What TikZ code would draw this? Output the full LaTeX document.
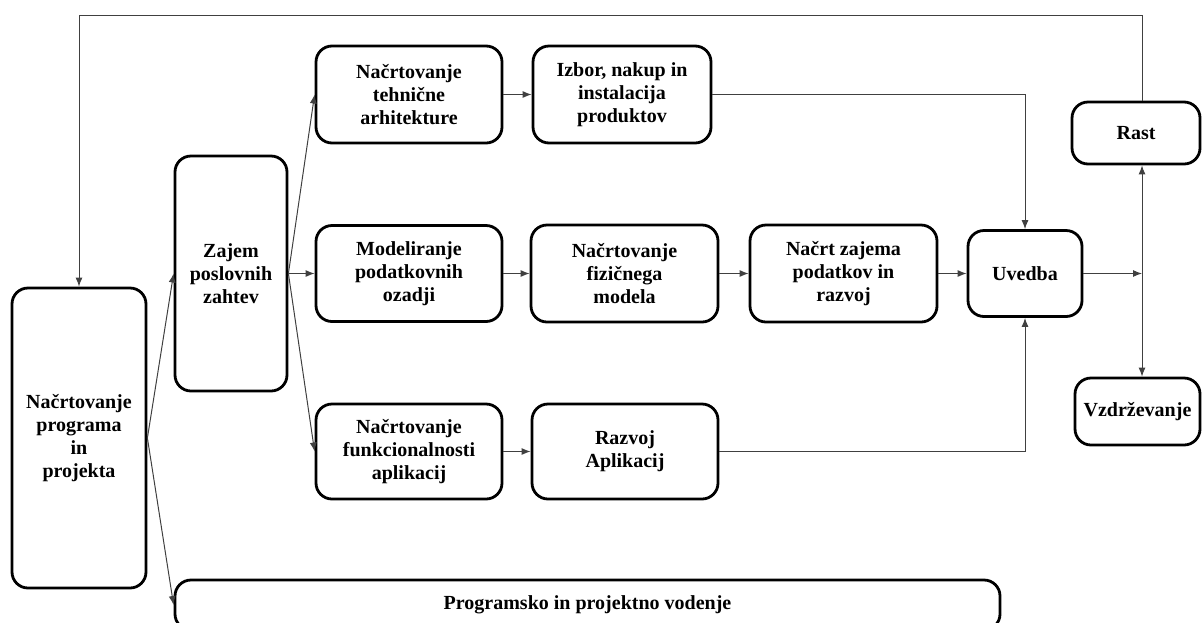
\documentclass[tikz,border=0pt]{standalone}
\usepackage{fontspec}
\setmainfont{Liberation Serif}
\usepackage{tikz}
\usetikzlibrary{arrows.meta}

\tikzset{
  box/.style={draw, line width=1.4pt, rounded corners=8pt, align=center,
    inner sep=2pt, font=\bfseries\fontsize{10}{11.5}\selectfont},
  link/.style={draw=black!75, line width=0.5pt},
  arr/.style={link, -{Latex[length=4.5pt,width=3.5pt]}},
  twoarr/.style={link, {Latex[length=4.5pt,width=3.5pt]}-{Latex[length=4.5pt,width=3.5pt]}}
}

\begin{document}
\begin{tikzpicture}[x=0.5pt, y=-0.5pt]
      \useasboundingbox (0, 0) rectangle (1202, 622);
      % boxes
      \node[box, minimum width=67pt, minimum height=150pt] (plan) at (79, 438) {Načrtovanje\\programa\\in\\projekta};
      \node[box, minimum width=56pt, minimum height=117.5pt] (zajem) at (231, 273.5) {Zajem\\poslovnih\\zahtev};
      \node[box, minimum width=93pt, minimum height=48.5pt] (tehn) at (409, 94.5) {Načrtovanje\\tehnične\\arhitekture};
      \node[box, minimum width=89pt, minimum height=48.5pt] (izbor) at (622, 94.5) {Izbor, nakup in\\instalacija\\produktov};
      \node[box, minimum width=93pt, minimum height=48pt] (model) at (409, 273.5) {Modeliranje\\podatkovnih\\ozadji};
      \node[box, minimum width=93.5pt, minimum height=48.5pt] (fiz) at (624.5, 273.5) {Načrtovanje\\fizičnega\\modela};
      \node[box, minimum width=93.5pt, minimum height=48.5pt] (nacrt) at (843.5, 273.5) {Načrt zajema\\podatkov in\\razvoj};
      \node[box, minimum width=57pt, minimum height=43pt] (uvedba) at (1025, 273.5) {Uvedba};
      \node[box, minimum width=64pt, minimum height=31pt] (rast) at (1136, 133) {Rast};
      \node[box, minimum width=62.5pt, minimum height=33.5pt] (vzdr) at (1137.5, 411.5) {Vzdrževanje};
      \node[box, minimum width=93pt, minimum height=47.5pt] (funkc) at (409, 451.5) {Načrtovanje\\funkcionalnosti\\aplikacij};
      \node[box, minimum width=93pt, minimum height=47.5pt] (razvoj) at (625, 451.5) {Razvoj\\Aplikacij};
      \node[box, minimum width=412.5pt, minimum height=25pt] (prog) at (587.5, 605) {Programsko in projektno vodenje};
      \coordinate (split) at (1142, 273.5);
      \coordinate (top) at (79, 15);
      % connectors
      \draw[arr] (plan.east) -- (zajem.west);
      \draw[arr] (plan.east) -- (prog.west);
      \draw[arr] (zajem.east) -- (tehn.west);
      \draw[arr] (zajem.east) -- (model.west);
      \draw[arr] (zajem.east) -- (funkc.west);
      \draw[arr] (tehn) -- (izbor);
      \draw[arr] (model) -- (fiz);
      \draw[arr] (fiz) -- (nacrt);
      \draw[arr] (nacrt) -- (uvedba);
      \draw[arr] (funkc) -- (razvoj);
      \draw[arr] (izbor.east) -| (uvedba.north);
      \draw[arr] (razvoj.east) -| (uvedba.south);
      \draw[arr] (uvedba.east) -- (split);
      \draw[twoarr] (split |- rast.south) -- (split |- vzdr.north);
      \draw[arr] (split |- rast.north) |- (top) -- (plan.north);
    \end{tikzpicture}
\end{document}
